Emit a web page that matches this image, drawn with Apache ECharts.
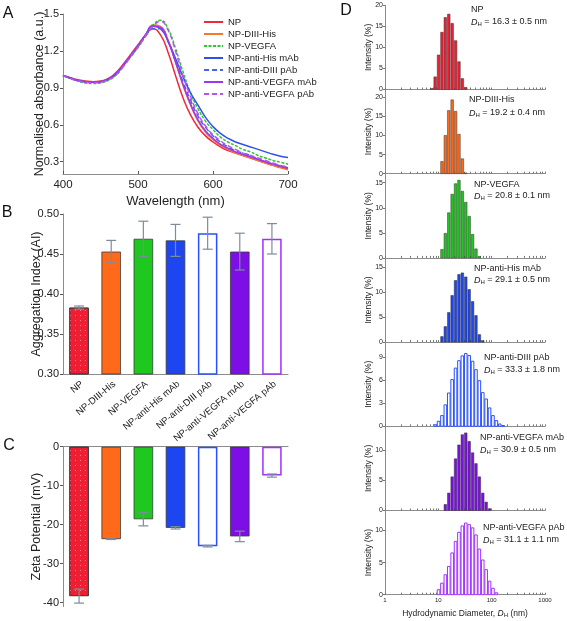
<!DOCTYPE html>
<html><head><meta charset="utf-8">
<script src="https://cdn.jsdelivr.net/npm/echarts@6/dist/echarts.min.js"></script>
<style>html,body{margin:0;padding:0;background:#fff}#c{width:567px;height:621px}</style>
</head><body><div id="c"></div>
<script>
// ---------- DATA ----------
const wavelengths = [400,410,420,430,440,450,460,470,480,490,500,510,520,530,540,550,560,570,580,590,600,610,620,630,640,650,660,670,680,690,700];
const specNP       = [1.00,0.98,0.965,0.955,0.95,0.955,0.975,1.02,1.09,1.17,1.25,1.33,1.38,1.33,1.19,1.00,0.82,0.68,0.58,0.51,0.46,0.42,0.39,0.37,0.35,0.33,0.31,0.29,0.27,0.255,0.24];
const specDIIIHis  = [1.00,0.98,0.96,0.95,0.945,0.95,0.97,1.01,1.08,1.16,1.24,1.33,1.41,1.40,1.29,1.11,0.92,0.76,0.63,0.54,0.48,0.43,0.40,0.37,0.35,0.33,0.31,0.29,0.27,0.25,0.235];
const specVEGFA    = [1.00,0.975,0.955,0.94,0.935,0.94,0.96,1.00,1.07,1.15,1.23,1.32,1.41,1.45,1.38,1.22,1.03,0.86,0.73,0.63,0.56,0.50,0.46,0.43,0.40,0.38,0.35,0.33,0.31,0.295,0.28];
const specAntiHis  = [1.00,0.98,0.96,0.95,0.945,0.95,0.97,1.01,1.08,1.16,1.24,1.33,1.40,1.38,1.28,1.14,0.99,0.86,0.76,0.66,0.585,0.53,0.49,0.46,0.44,0.42,0.40,0.38,0.36,0.345,0.335];
const specAntiDIII = [1.00,0.98,0.96,0.95,0.945,0.95,0.97,1.01,1.08,1.16,1.24,1.32,1.38,1.38,1.28,1.12,0.95,0.80,0.67,0.58,0.51,0.46,0.42,0.39,0.37,0.35,0.32,0.30,0.28,0.265,0.25];
const specAntiVmAb = [1.00,0.98,0.96,0.95,0.945,0.95,0.97,1.01,1.08,1.16,1.24,1.33,1.40,1.39,1.28,1.11,0.93,0.77,0.64,0.55,0.49,0.44,0.41,0.38,0.36,0.34,0.32,0.30,0.28,0.265,0.25];
const specAntiVpAb = [1.00,0.975,0.955,0.945,0.94,0.945,0.965,1.00,1.07,1.15,1.23,1.32,1.40,1.44,1.37,1.20,1.00,0.83,0.69,0.59,0.52,0.47,0.43,0.40,0.37,0.35,0.33,0.31,0.29,0.27,0.26];
const specTicks = [0.3,0.6,0.9,1.2,1.5];

const categories = ['NP','NP-DIII-His','NP-VEGFA','NP-anti-His mAb','NP-anti-DIII pAb','NP-anti-VEGFA mAb','NP-anti-VEGFA pAb'];
const aggIndex = [0.383,0.453,0.469,0.467,0.476,0.453,0.469];
const aggErr   = [0.002,0.014,0.022,0.020,0.020,0.023,0.019];
const zeta     = [-38.3,-23.7,-18.6,-20.8,-25.5,-23.0,-7.4];
const zetaErr  = [1.8,0.1,1.7,0.3,0.2,1.35,0.4];
const zetaTicks = [-40,-30,-20,-10,0];

const dlsBins = [7.531,8.721,10.1,11.7,13.54,15.69,18.17,21.04,24.36,28.21,32.67,37.84,43.82,50.75,58.77,68.06,78.82,91.28,105.7,122.4,141.8,164.2];
const dlsNP       = [0.24,3.0,8.2,13.6,17.1,17.9,15.7,11.6,6.6,2.6,0.5,0,0,0,0,0,0,0,0,0,0,0];
const dlsDIIIHis  = [0,0,0,3.2,10.0,16.5,19.3,16.3,10.3,3.9,0.2,0,0,0,0,0,0,0,0,0,0,0];
const dlsVEGFA    = [0,0,0,1.7,4.9,9.0,12.7,14.8,15.5,13.3,11.1,8.3,4.7,1.8,0.3,0,0,0,0,0,0,0];
const dlsAntiHis  = [0,0,0,1.1,3.1,5.9,9.3,12.3,13.5,13.8,13.0,10.5,8.1,5.3,1.5,0.3,0,0,0,0,0,0];
const dlsAntiDIII = [0,0.2,0.65,1.4,2.8,4.35,6.1,7.6,8.57,9.2,9.5,9.26,8.5,7.4,5.96,4.4,3.57,2.4,1.4,0.74,0.3,0.1];
const dlsAntiVmAb = [0,0,0,0,1.0,2.9,5.6,8.6,10.9,12.6,12.9,11.5,9.6,7.8,5.6,2.9,1.4,0.3,0,0,0,0];
const dlsAntiVpAb = [0,0,0.78,1.8,3.1,4.4,6.5,8.3,9.7,10.7,11.15,10.9,10.4,9.3,7.1,5.4,3.9,2.1,1.0,0.3,0,0];
const dlsMax = [20,22,16.8,16.8,11,14,13.1];
const dlsYTicks = [[0,5,10,15,20],[0,5,10,15,20],[0,5,10,15],[0,5,10,15],[0,3,6,9],[0,5,10],[0,5,10]];
const dlsXTicks = [1,2,3,4,5,6,7,8,9,10,20,30,40,50,60,70,80,90,100,200,300,400,500,600,700,800,900,1000];
const dlsXLabels = [1,10,100,1000];
const dlsDH = ['16.3 ± 0.5','19.2 ± 0.4','20.8 ± 0.1','29.1 ± 0.5','33.3 ± 1.8','30.9 ± 0.5','31.1 ± 1.1'];

// ---------- STYLE ----------
const FONT = 'Liberation Sans, Arial, sans-serif';
const GRAY = '#8c8c8c';
const TXT = '#222';
const specSeries = [
  {name:'NP', data:specNP, color:'#f0283c', type:'solid'},
  {name:'NP-DIII-His', data:specDIIIHis, color:'#f07a30', type:'solid'},
  {name:'NP-VEGFA', data:specVEGFA, color:'#2ec82e', type:[3,1.5]},
  {name:'NP-anti-His mAb', data:specAntiHis, color:'#3050ec', type:'solid'},
  {name:'NP-anti-DIII pAb', data:specAntiDIII, color:'#4a62ec', type:[5,3]},
  {name:'NP-anti-VEGFA mAb', data:specAntiVmAb, color:'#a035ea', type:'solid'},
  {name:'NP-anti-VEGFA pAb', data:specAntiVpAb, color:'#b455f2', type:[5,3]}
];
const barColors = ['#f01e32','#ff6a1a','#1ec81e','#1e46f0','#2850ff','#7d0fe6','#a030ff'];
const barOpen = [false,false,false,false,true,false,true];
const dlsSets = [dlsNP,dlsDIIIHis,dlsVEGFA,dlsAntiHis,dlsAntiDIII,dlsAntiVmAb,dlsAntiVpAb];

function barItemStyle(i){
  if (barOpen[i]) return {color:'#fff', borderColor:barColors[i], borderWidth:1.5};
  const s = {color:barColors[i], borderColor:'#3a3a3a', borderWidth:0.8};
  if (i === 0) s.decal = {symbol:'rect', symbolSize:1, color:'rgba(255,190,190,0.6)', dashArrayX:[1,4], dashArrayY:[1,4]};
  return s;
}
function errItem(params, api){
  const i = api.value(0), v = api.value(1), e = api.value(2);
  const t = api.coord([i, v + e]), b = api.coord([i, v - e]);
  const w = 5, st = {stroke:'#7d8c9c', lineWidth:1.2};
  return {type:'group', children:[
    {type:'line', shape:{x1:t[0],y1:t[1],x2:b[0],y2:b[1]}, style:st},
    {type:'line', shape:{x1:t[0]-w,y1:t[1],x2:t[0]+w,y2:t[1]}, style:st},
    {type:'line', shape:{x1:b[0]-w,y1:b[1],x2:b[0]+w,y2:b[1]}, style:st}
  ]};
}
const binHalf = Math.sqrt(dlsBins[1] / dlsBins[0]);
function histRender(style){
  return function(params, api){
    const x = api.value(0), y = api.value(1);
    const a = api.coord([x / binHalf, y]);
    const b = api.coord([x * binHalf, 0]);
    return {type:'rect', shape:{x:a[0]+0.4, y:a[1], width:Math.max(b[0]-a[0]-0.8,0.5), height:b[1]-a[1]}, style:style};
  };
}
const yName = (text, gap, size) => ({name:text, nameLocation:'middle', nameGap:gap, nameRotate:90, nameMoveOverlap:false,
  nameTextStyle:{fontSize:size, color:TXT, fontFamily:FONT, verticalAlign:'middle', align:'center'}});

const grid = [], xAxis = [], yAxis = [], series = [];
// ---- Panel A ----
grid.push({left:63, top:14, width:225, height:160});
xAxis.push({gridIndex:0, type:'value', min:400, max:700, interval:100,
  axisLine:{lineStyle:{color:GRAY}}, axisTick:{inside:true, length:3, lineStyle:{color:'#555'}},
  axisLabel:{fontSize:11.5, color:TXT, fontFamily:FONT, margin:5}, splitLine:{show:false},
  name:'Wavelength (nm)', nameLocation:'middle', nameGap:21, nameMoveOverlap:false, nameTextStyle:{fontSize:13, color:TXT, fontFamily:FONT}});
yAxis.push(Object.assign({gridIndex:0, type:'value', min:0.2, max:1.5,
  axisLine:{show:true, lineStyle:{color:GRAY}}, axisTick:{show:true, length:3, customValues:specTicks, lineStyle:{color:'#555'}},
  axisLabel:{customValues:specTicks, fontSize:11, color:TXT, fontFamily:FONT, margin:4, formatter:v=>v.toFixed(1)},
  splitLine:{show:false}}, yName('Normalised absorbance (a.u.)', 23, 12.5)));
specSeries.forEach(s => series.push({type:'line', name:s.name, xAxisIndex:0, yAxisIndex:0, smooth:true, symbol:'none',
  data:wavelengths.map((w,i)=>[w, s.data[i]]), lineStyle:{color:s.color, width:1.5, type:s.type}, itemStyle:{color:s.color}}));

// ---- Panel B ----
grid.push({left:63, top:214, width:225, height:160});
xAxis.push({gridIndex:1, type:'category', data:categories, axisLine:{lineStyle:{color:GRAY}}, axisTick:{show:false},
  axisLabel:{interval:0, rotate:40, fontSize:9.5, color:TXT, fontFamily:FONT, margin:5, verticalAlign:'top'}});
yAxis.push(Object.assign({gridIndex:1, type:'value', min:0.3, max:0.5, interval:0.05,
  axisLine:{show:true, lineStyle:{color:GRAY}}, axisTick:{show:true, length:3, lineStyle:{color:'#555'}},
  axisLabel:{fontSize:11, color:TXT, fontFamily:FONT, margin:4, formatter:v=>v.toFixed(2)}, splitLine:{show:false}},
  yName('Aggregation Index (AI)', 26, 12.5)));
series.push({type:'bar', xAxisIndex:1, yAxisIndex:1, barWidth:19.5,
  data:aggIndex.map((v,i)=>({value:v, itemStyle:barItemStyle(i)}))});
series.push({type:'custom', xAxisIndex:1, yAxisIndex:1, renderItem:errItem, z:5,
  data:aggIndex.map((v,i)=>[i, v, aggErr[i]])});

// ---- Panel C ----
grid.push({left:63, top:446.7, width:225, height:159.9});
xAxis.push({gridIndex:2, type:'category', data:categories, axisLine:{lineStyle:{color:GRAY}}, axisTick:{show:false}, axisLabel:{show:false}});
yAxis.push(Object.assign({gridIndex:2, type:'value', min:-41, max:0,
  axisLine:{show:true, lineStyle:{color:GRAY}}, axisTick:{show:true, length:3, customValues:zetaTicks, lineStyle:{color:'#555'}},
  axisLabel:{customValues:zetaTicks, fontSize:11, color:TXT, fontFamily:FONT, margin:4}, splitLine:{show:false}},
  yName('Zeta Potential (mV)', 26, 12.5)));
series.push({type:'bar', xAxisIndex:2, yAxisIndex:2, barWidth:19.5,
  data:zeta.map((v,i)=>({value:v, itemStyle:barItemStyle(i)}))});
series.push({type:'custom', xAxisIndex:2, yAxisIndex:2, renderItem:errItem, z:5,
  data:zeta.map((v,i)=>[i, v, zetaErr[i]])});

// ---- Panel D ----
const dTop = 5.3, dH = 84.2;
for (let k = 0; k < 7; k++) {
  const gi = 3 + k, last = k === 6;
  grid.push({left:385, top:dTop + dH*k, width:160, height:dH});
  xAxis.push({gridIndex:gi, type:'log', logBase:10, min:1, max:1000,
    axisLine:{lineStyle:{color:GRAY}}, axisTick:{inside:true, length:2, customValues:dlsXTicks, lineStyle:{color:'#777'}},
    axisLabel:{show:last, customValues:dlsXLabels, fontSize:6, color:TXT, fontFamily:FONT, margin:3, formatter:v=>String(v)}, splitLine:{show:false},
    name: last ? '{n|Hydrodynamic Diameter, }{i|D}{s|H}{n| (nm)}' : '', nameLocation:'middle', nameGap:13, nameMoveOverlap:false,
    nameTextStyle:{color:TXT, fontFamily:FONT, fontSize:8.5, rich:{
      n:{fontSize:8.5, color:TXT, fontFamily:FONT}, i:{fontSize:8.5, fontStyle:'italic', color:TXT, fontFamily:FONT},
      s:{fontSize:6, color:TXT, fontFamily:FONT, padding:[5,0,0,0]}}}});
  yAxis.push(Object.assign({gridIndex:gi, type:'value', min:0, max:dlsMax[k],
    axisLine:{show:true, lineStyle:{color:GRAY}}, axisTick:{show:true, length:2, customValues:dlsYTicks[k], lineStyle:{color:'#777'}},
    axisLabel:{customValues:dlsYTicks[k], fontSize:7, color:TXT, fontFamily:FONT, margin:2}, splitLine:{show:false}},
    yName('Intensity (%)', 16.5, 8.5)));
  const open = barOpen[k];
  const st = open ? {fill:'#fff', stroke:barColors[k], lineWidth:1} : {fill:barColors[k], stroke:'#333', lineWidth:0.5};
  series.push({type:'custom', xAxisIndex:gi, yAxisIndex:gi, renderItem:histRender(st),
    data:dlsBins.map((b,j)=>[b, dlsSets[k][j]]).filter(d=>d[1]>0)});
}

// ---- graphic texts ----
const graphic = [];
[['A',8,14],['B',7,213],['C',9,446],['D',346,11]].forEach(p => graphic.push({type:'text', x:p[1], y:p[2],
  style:{text:p[0], fontSize:16, fontFamily:FONT, fill:'#111', align:'center', verticalAlign:'middle', textAlign:'center', textVerticalAlign:'middle'}}));
const annPos = [[471,10,22],[469,100,113],[474,185,196],[474,269,280],[484,358,370],[480,438,450],[483,528,540]];
annPos.forEach((p,k) => {
  graphic.push({type:'text', x:p[0], y:p[1], style:{text:categories[k], fontSize:9, fontFamily:FONT, fill:TXT, verticalAlign:'middle', textVerticalAlign:'middle'}});
  graphic.push({type:'text', x:p[0], y:p[2], style:{text:'{i|D}{s|H}{n| = ' + dlsDH[k] + ' nm}', fontFamily:FONT, fill:TXT,
    verticalAlign:'middle', textVerticalAlign:'middle',
    rich:{i:{fontSize:9, fontStyle:'italic', fontFamily:FONT, fill:TXT}, s:{fontSize:6, fontFamily:FONT, fill:TXT, padding:[5,0,0,0]}, n:{fontSize:9, fontFamily:FONT, fill:TXT}}}});
});

const chart = echarts.init(document.getElementById('c'));
chart.setOption({
  animation:false, backgroundColor:'#fff',
  textStyle:{fontFamily:FONT},
  legend:{data:specSeries.map(s=>s.name), orient:'vertical', left:203, top:17, padding:0, itemWidth:19, itemHeight:10, itemGap:2,
    itemStyle:{opacity:0}, textStyle:{fontSize:9.5, color:TXT, fontFamily:FONT}},
  grid, xAxis, yAxis, series, graphic
});
</script></body></html>
